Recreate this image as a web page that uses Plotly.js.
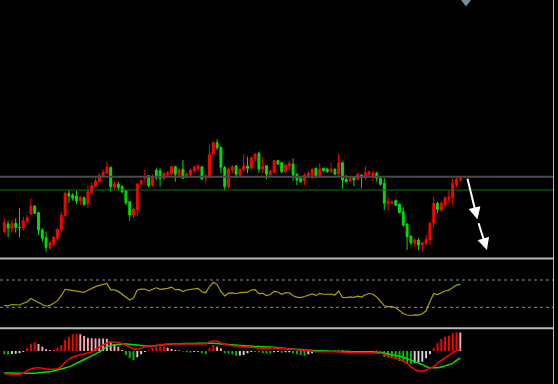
<!DOCTYPE html>
<html><head><meta charset="utf-8">
<script src="https://cdn.plot.ly/plotly-3.0.1.min.js"></script>
<style>html,body{margin:0;padding:0;background:#000;}#chart{width:558px;height:384px;}</style>
</head><body><div id="chart"></div>
<script>
const open = [68.3,76,71.7,76.7,72.7,72.3,78.3,86,94,87.3,
70,62.3,52.3,55.7,61.7,70,84.3,106.7,105,104,
99.3,102.3,96.7,107.3,114,118.3,123.3,126.7,132.7,112.7,
116,113.3,109.3,98.3,85,90,115.7,121.7,124.3,115,
130,129.3,121.7,125.7,126,133.3,125,130.7,122.3,125,
129,130.7,133.3,121.7,123.3,145.7,157.3,152.7,132.7,113.3,
130,134,125,130,134,132.3,141.7,146.7,130.7,134.3,
125,127.7,139.3,137.3,128.3,134,136,125.7,121.7,119.3,
124.3,125,131.7,124,131.7,131,128.3,130.7,126,137.3,
120.7,119,123.3,121,125,122.3,125.7,124,126.7,121.7,
116.7,96.7,96.7,99.3,95.7,88.3,76,64,56.7,60,
55,56.7,60,76.7,96.7,90,95,100.7,101.7,115,120];
const high = [81.7,79.3,80,81.7,91.7,83.3,85,101.7,95,88.3,
71.7,68.3,58.3,64,71.7,88.3,108.3,110,106.7,109.3,
104,103.3,114,117.3,121.7,126.7,130.7,138.3,133.3,118.3,
118.3,115,110,99,92,116.7,120,130,125,125.7,
131.7,131.7,127.3,129,134,134,131.7,140,127.3,131.7,
134,135.7,134,125.7,155,159,160.7,153.3,134,132.3,
135,135,131.7,146,143.3,143.3,147.3,148.3,142.7,135,
130,140,140,138.3,136,139.3,141.7,126.7,122.7,126.7,
129,131.7,132.3,136.7,132.3,131.7,137.3,131.7,146,138.3,
125,123.3,124,127.3,125.7,134,129.3,128.3,128.3,123.3,
121.7,103.3,99.3,100.7,96.7,92.7,76.7,65,61.7,61.7,
58.3,65,78.3,103.3,98.3,98.3,104,109.3,121.7,124,124];
const low = [66.7,62.7,67.3,67.3,62.7,70,77.3,85,86,65,
58.3,47.7,50,54,59.3,68.3,83.3,96.7,99.3,96,
95,94,92.3,105,112.7,117.3,122.7,126,108.3,110.7,
110,106.7,95,79.3,81.7,84,115,116.7,112.7,113.3,
120,113.3,120,123.3,125,118.3,123.3,121.7,121.7,123.3,
127.7,129,120,116.7,121.7,145,150,126.7,110,111.7,
126.7,121.7,123.3,128.3,126.7,130,138.3,127.3,126.7,120.7,
124,126.7,135,126.7,126.7,130,119.3,115,117.3,115,
123.3,120.7,121.7,122.7,128.3,127.3,126.7,125,124,111.7,
117.7,118.3,114,119.3,111.7,120,124,119,118.3,114,
90,89.3,96,94,86.7,73.3,50,55,53.3,50,
48.3,55,55,71.7,86.7,88.3,93.3,96.7,95,113.3,118];
const close = [77.3,71.7,76.7,72.7,72.3,79.3,82.3,94,86.7,70,
61.7,52.7,57.3,62.7,70.7,85,106.7,104,101.7,99,
102.7,95.7,108.3,114.3,119,124.3,127.7,132.7,113.3,116,
112.7,108.3,97.3,85,91,116,119,123.3,114.3,123.3,
122.3,121.7,126.7,127.3,133.3,125.7,130,121.7,126,130,
132.7,134,121,124,145.7,157.3,152.3,132.7,113.3,131,
133.3,125.7,130.7,134,131.7,142.3,145.7,131,134,126,
129,139.3,136,128.3,135,136.7,125,120,118.3,125,
126.7,130.7,123.3,131,129.3,128.3,130.7,126,137.3,120,
118.3,122.3,120,125.7,122.7,127.3,128.3,127.3,121.7,115.7,
96.7,98.3,98.3,95,87.3,75,63.3,57.3,60,55,
57.3,60.7,76.7,96.7,90.7,96.7,102.3,103.3,116.7,121,123.3];

const levels = [123.3, 110];

const osc = [32.9,32.3,34.1,33.7,33.4,35.9,37.8,42.9,39.7,36.3,
34.0,31.6,32.9,35.9,39.7,47.0,56.4,55.6,54.8,54.2,
53.4,51.8,54.9,58.1,60.3,62.1,64.1,65.0,55.6,55.4,
53.3,49.5,45.1,40.8,43.6,55.4,56.7,56.8,54.0,56.7,
58.6,56.4,56.7,57.7,59.6,55.9,56.2,53.2,55.4,56.5,
57.4,57.8,52.7,51.4,60.5,66.6,63.3,53.2,46.6,50.7,
51.0,49.9,51.5,52.0,52.1,55.4,55.8,50.1,50.5,47.1,
48.8,53.4,52.4,49.1,51.1,51.0,47.0,44.9,44.1,45.8,
48.0,49.5,47.4,50.4,49.1,49.1,49.3,48.0,53.9,44.4,
44.1,45.2,44.7,46.4,45.1,48.5,50.2,49.1,45.2,38.9,
32.2,30.9,30.9,29.3,25.0,20.9,18.7,18.0,19.0,18.7,
20.5,24.9,38.1,50.4,48.6,51.1,53.9,55.1,59.3,62.5,63.7];
const oscLevels = [70, 30];

const macd = [-22.7,-23,-23.3,-23.3,-23.3,-22.3,-19.7,-18,-17,-16.7,
-17.3,-18,-18.3,-18.3,-17.7,-15.7,-11.3,-8,-6,-4.7,
-3.7,-3,-2,-0.7,1.3,3.7,6,7.7,9,9,
8.3,7.3,5.7,4,2,2,3,4,4.7,5,
5.7,6,6.7,7,7,7,7,7,7,7,
7,7,7,7.3,9,10,9.7,8,6.7,6,
5.3,5,4.7,4.3,4,3.7,3.3,3,2.7,2.7,
3,3,2.7,2.5,2.3,2,1.7,1.3,0.8,0.5,
0.2,-0.2,-0.3,-0.7,-0.7,-0.7,-0.7,-0.7,-0.8,-1,
-1.3,-1.5,-1.7,-1.7,-1.7,-1.7,-1.7,-2,-2.2,-2.3,
-3.3,-5,-6.3,-7.3,-8.3,-10.3,-12.3,-15.7,-18.3,-19.7,
-20,-19,-17,-15.7,-12,-9.3,-6.7,-4.3,-1.7,0.3,2];
const signal = [-21.7,-22,-22,-22.3,-22.3,-22.3,-22.3,-22.3,-22.2,-21.8,
-21.4,-21,-20.7,-19.8,-18.9,-17.9,-16.9,-15.9,-14.2,-12.3,
-10.5,-8.5,-6.7,-4.8,-2.8,-1,1.7,4.3,5.3,6.2,
6.7,6.8,7,6.7,6.3,6,5.5,5.1,5,5.1,
5.3,5.8,6.3,6.8,7.1,7.3,7.3,7.4,7.5,7.5,
7.6,7.7,7.7,7.7,7.7,7.7,7.4,7.1,6.8,6.5,
6.2,5.9,5.6,5.3,5.1,4.9,4.6,4.4,4.2,4,
4.1,3.8,3.3,2.9,2.5,2.2,1.9,1.7,1.4,1.1,
0.8,0.6,0.4,0.2,0,-0.1,-0.2,-0.3,-0.4,-0.4,
-0.5,-0.6,-0.7,-0.7,-0.7,-0.7,-0.7,-0.8,-1.1,-1.3,
-2.2,-2.9,-3.7,-4.6,-5.4,-6.3,-7.7,-9.1,-10.7,-12,
-13.6,-15.5,-16.7,-16.7,-16.7,-16,-14.9,-13.7,-12.3,-9.3,-7.3];
const hist = [-3.2,-3.4,-3.0,-2.7,-2.3,-1.0,2.7,7,8.7,7,
4.3,2,1,1.3,3.3,6,11,14.3,16.7,17.3,
16.7,15,13.3,12.7,12.6,12.5,12.4,12.3,9.3,6,
4.3,1,-4,-7.3,-9,-6.3,-3.3,-1,0.5,3.3,
4.3,4.4,4.5,3.3,2,1,0.5,-0.5,-1.3,-1.4,
-1,-0.8,-2.3,-3.3,2.7,6,4.3,2.7,-2.3,-2.4,
-3.3,-4.7,-4.5,-4,-2.3,-1,-0.5,-1.3,-2.3,-2.4,
-2.5,-1.3,-1,-1.7,-1.3,-1.2,-2.3,-3.3,-4,-4.7,
-3.3,-2.3,-1.3,-0.7,-0.6,-0.5,0.3,0.7,1.5,0.7,
0.3,-0.3,-0.7,-1,-0.9,-0.7,-0.3,0.3,0.7,-0.5,
-5.7,-6.3,-7.3,-8.3,-10,-10.7,-12.3,-13.3,-12.3,-11.3,
-10.7,-7.3,-3.3,3.3,7.7,12,14.3,15.3,17.7,18.7,18.5];

// arrows drawn on the chart: [tailBar, tailValue, tipBar, tipValue]
const arrows = [[122.8,122.7,125.5,80.7],[125.7,78.3,128,50]];
const marker = {bar: 122.5, value: 298};

const bars = open.map((_, i) => i + 1);
const histColors = hist.map((h, i) => {
  const p = i > 0 ? hist[i-1] : h;
  if (h >= 0) return h >= p ? '#ff0000' : '#f7a8b8';
  return h <= p ? '#00c000' : '#d8d8d8';
});

const traces = [
  {type:'candlestick', x:bars, open:open, high:high, low:low, close:close,
   xaxis:'x', yaxis:'y', whiskerwidth:0,
   increasing:{line:{color:'#ff0000', width:1}, fillcolor:'#ff0000'},
   decreasing:{line:{color:'#00e000', width:1}, fillcolor:'#00e000'},
   hoverinfo:'skip'},
  {type:'scatter', mode:'markers', x:[marker.bar], y:[marker.value], xaxis:'x', yaxis:'y',
   marker:{symbol:'triangle-down', size:9, color:'#7a8a9c'}, cliponaxis:false, hoverinfo:'skip'},
  {type:'scatter', mode:'lines', x:bars, y:osc, xaxis:'x', yaxis:'y2',
   line:{color:'#a8a400', width:1.2}, hoverinfo:'skip'},
  {type:'bar', x:bars, y:hist, xaxis:'x', yaxis:'y3', width:0.5,
   marker:{color:histColors, line:{width:0}}, hoverinfo:'skip'},
  {type:'scatter', mode:'lines', x:bars, y:signal, xaxis:'x', yaxis:'y3',
   line:{color:'#00e000', width:1.5, shape:'spline'}, hoverinfo:'skip'},
  {type:'scatter', mode:'lines', x:bars, y:macd, xaxis:'x', yaxis:'y3',
   line:{color:'#ff0000', width:1.5, shape:'spline'}, hoverinfo:'skip'}
];

const H = 384, W = 558;
const sep1 = 1 - 258.5/H, sep2 = 1 - 328.3/H;
const border = 553.5/W;
const shapes = [
  {type:'line', xref:'paper', yref:'y', x0:0, x1:border, y0:levels[0], y1:levels[0], line:{color:'#4a4a4a', width:2}},
  {type:'line', xref:'paper', yref:'y', x0:0, x1:border, y0:levels[1], y1:levels[1], line:{color:'#007a00', width:1}},
  {type:'line', xref:'paper', yref:'y2', x0:0, x1:border, y0:oscLevels[0], y1:oscLevels[0], line:{color:'#8a8a8a', width:1, dash:'dot'}},
  {type:'line', xref:'paper', yref:'y2', x0:0, x1:border, y0:oscLevels[1], y1:oscLevels[1], line:{color:'#8a8a8a', width:1, dash:'dot'}},
  {type:'line', xref:'paper', yref:'paper', x0:0, x1:border, y0:sep1, y1:sep1, line:{color:'#b8b8b8', width:2}},
  {type:'line', xref:'paper', yref:'paper', x0:0, x1:border, y0:sep2, y1:sep2, line:{color:'#b8b8b8', width:2}},
  {type:'line', xref:'paper', yref:'paper', x0:border, x1:border, y0:0, y1:1, line:{color:'#b8b8b8', width:1}}
];
const annotations = arrows.map(a => ({
  x:a[2], y:a[3], ax:a[0], ay:a[1], xref:'x', yref:'y', axref:'x', ayref:'y',
  text:'', showarrow:true, arrowhead:2, arrowsize:1.2, arrowwidth:2, arrowcolor:'#ffffff'
}));

const r0 = 1 - 4.3/3.8;
const layout = {
  width:W, height:H, margin:{l:0,r:0,t:0,b:0,pad:0},
  paper_bgcolor:'#000000', plot_bgcolor:'#000000', showlegend:false, boxgap:0.3,
  xaxis:{range:[r0, r0 + W/3.8], visible:false, rangeslider:{visible:false}, fixedrange:true},
  yaxis:{domain:[1-258/H, 1], range:[42, 300], visible:false, fixedrange:true},
  yaxis2:{domain:[sep2, sep1], range:[-0.76, 101.5], visible:false, fixedrange:true},
  yaxis3:{domain:[0, sep2], range:[-33, 22.7], visible:false, fixedrange:true},
  shapes:shapes, annotations:annotations, bargap:0.5
};
Plotly.newPlot('chart', traces, layout, {staticPlot:true, displayModeBar:false});
</script></body></html>
